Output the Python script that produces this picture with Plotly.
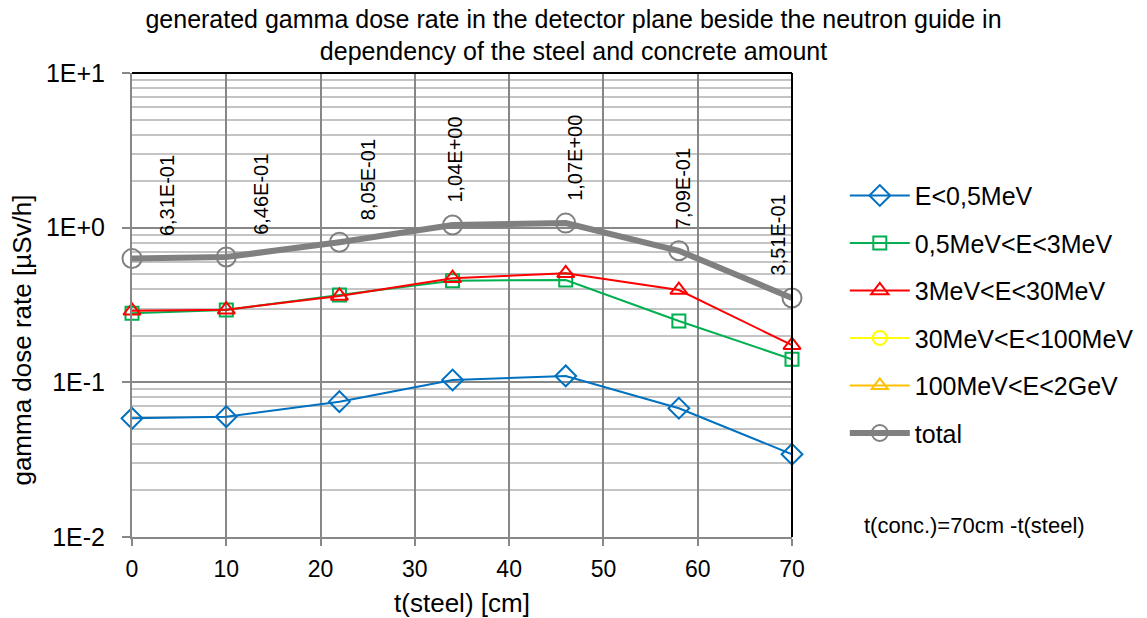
import math
import plotly.graph_objects as go

# ---- data ----
t_steel = [0, 10, 22, 34, 46, 58, 70]
e_lt_05 = [0.0585, 0.060, 0.075, 0.1035, 0.110, 0.068, 0.0343]
e_05_3 = [0.280, 0.294, 0.367, 0.454, 0.459, 0.249, 0.141]
e_3_30 = [0.290, 0.295, 0.362, 0.471, 0.507, 0.395, 0.174]
e_30_100 = [None, None, None, None, None, None, None]
e_100_2000 = [None, None, None, None, None, None, None]
total = [0.631, 0.646, 0.805, 1.04, 1.07, 0.709, 0.351]

series_names = ["E<0,5MeV", "0,5MeV<E<3MeV", "3MeV<E<30MeV",
                "30MeV<E<100MeV", "100MeV<E<2GeV", "total"]
y_tickvals = [0.01, 0.1, 1, 10]
y_ticktext = ["1E-2", "1E-1", "1E+0", "1E+1"]
x_tickvals = [0, 10, 20, 30, 40, 50, 60, 70]

# ---- styles ----
FONT = "Liberation Sans, Arial, sans-serif"
styles = [
    dict(color="#0070C0", symbol="diamond-open", size=16, lw=2),
    dict(color="#00B050", symbol="square-open", size=13, lw=2),
    dict(color="#FF0000", symbol="triangle-up-open", size=15, lw=2),
    dict(color="#FFFF00", symbol="circle-open", size=14, lw=2),
    dict(color="#FFC000", symbol="triangle-up-open", size=14, lw=2),
    dict(color="#808080", symbol="circle-open", size=19, lw=6),
]
label_xshift = [35, 34, 28, 2, 9, 4, -14]

fig = go.Figure()
all_series = [e_lt_05, e_05_3, e_3_30, e_30_100, e_100_2000, total]
for i, (name, ys, st) in enumerate(zip(series_names, all_series, styles)):
    fig.add_trace(go.Scatter(
        x=t_steel, y=ys, name=name, mode="lines+markers",
        legendgroup=str(i),
        line=dict(color=st["color"], width=st["lw"]),
        marker=dict(symbol=st["symbol"], size=st["size"],
                    color=st["color"],
                    line=dict(color=st["color"], width=2)),
        cliponaxis=False,
    ))

def fmt(v):
    s = "%.2E" % v
    mant, exp = s.split("E")
    return mant.replace(".", ",") + "E" + exp

for xv, yv, dx in zip(t_steel, total, label_xshift):
    fig.add_annotation(x=xv, y=math.log10(yv), yref="y", xref="x", text=fmt(yv),
                       textangle=-90, showarrow=False, xshift=dx, yshift=20,
                       yanchor="bottom", xanchor="center",
                       font=dict(family=FONT, size=20, color="#000000"))

fig.add_annotation(xref="paper", yref="paper", x=1.276, y=0.025,
                   text="t(conc.)=70cm -t(steel)", showarrow=False,
                   xanchor="center", yanchor="middle",
                   font=dict(family=FONT, size=22, color="#000000"))

# y-axis title (placed as in the reference, slightly below the axis centre)
fig.add_annotation(xref="paper", yref="paper", x=-0.167, y=0.425,
                   text="gamma dose rate [µSv/h]", showarrow=False,
                   textangle=-90, xanchor="center", yanchor="middle",
                   font=dict(family=FONT, size=26, color="#000000"))

# borders top and right (black)
fig.add_shape(type="line", xref="paper", yref="paper", x0=0, x1=1, y0=1, y1=1,
              line=dict(color="#000000", width=2), layer="above")
fig.add_shape(type="line", xref="paper", yref="paper", x0=1, x1=1, y0=0, y1=1,
              line=dict(color="#000000", width=2), layer="above")

fig.update_layout(
    width=1147, height=618,
    margin=dict(l=132, r=355, t=73, b=81, autoexpand=False),
    paper_bgcolor="white", plot_bgcolor="white",
    font=dict(family=FONT, size=24, color="#000000"),
    title=dict(text="generated gamma dose rate in the detector plane beside the neutron guide in<br>dependency of the steel and concrete amount",
               x=0.5, xanchor="center", y=0.955, yanchor="middle",
               font=dict(family=FONT, size=25, color="#000000")),
    showlegend=True,
    legend=dict(x=1.08, y=0.785, xanchor="left", yanchor="top",
                font=dict(family=FONT, size=25, color="#000000"),
                tracegroupgap=12, bgcolor="rgba(0,0,0,0)",
                traceorder="grouped", itemwidth=60),
    xaxis=dict(range=[0, 70], tickvals=x_tickvals, showgrid=True,
               gridcolor="#878787", gridwidth=2, zeroline=False,
               showline=True, linecolor="#878787", linewidth=2,
               ticks="outside", ticklen=7, tickcolor="#878787", tickwidth=2,
               tickfont=dict(family=FONT, size=23), ticklabelstandoff=3,
               automargin=False,
               title=dict(text="t(steel) [cm]", standoff=16,
                          font=dict(family=FONT, size=26))),
    yaxis=dict(type="log", range=[-2, 1], tickvals=y_tickvals,
               ticktext=y_ticktext, showgrid=True, gridcolor="#878787",
               gridwidth=2, zeroline=False,
               showline=True, linecolor="#878787", linewidth=2,
               ticks="outside", ticklen=8, tickcolor="#878787", tickwidth=2,
               tickfont=dict(family=FONT, size=25), ticklabelstandoff=12,
               automargin=False,
               minor=dict(dtick="D1", showgrid=True, gridcolor="#c4c4c4",
                          gridwidth=2, ticks="")),
)

fig.write_html("out.html")
